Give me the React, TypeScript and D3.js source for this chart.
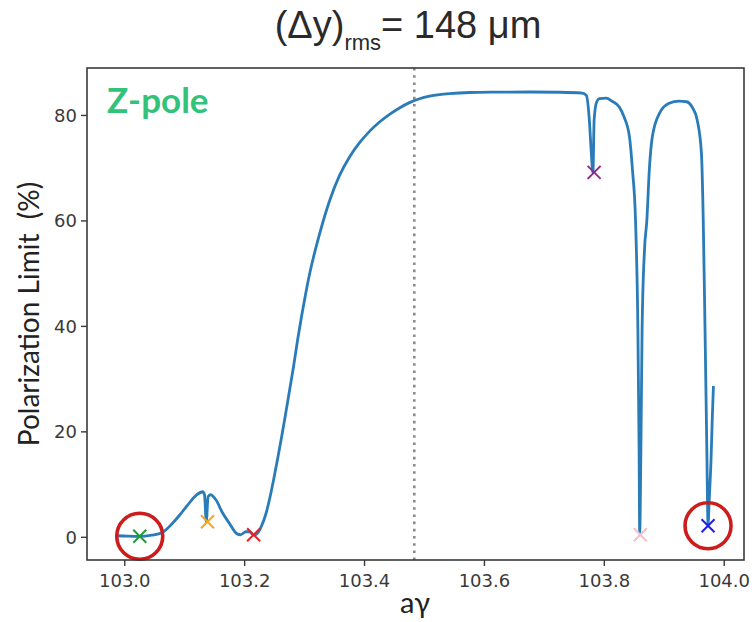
import React from "react";
import * as d3 from "d3";

// ---- data ----
const polX = [
  102.987, 103.005, 103.025, 103.045, 103.062, 103.08, 103.092, 103.103, 103.12, 103.13,
  103.133, 103.136, 103.139, 103.143, 103.152, 103.163, 103.175, 103.187, 103.193, 103.202,
  103.208, 103.215, 103.222, 103.2283, 103.235, 103.2417, 103.2483, 103.255, 103.2617, 103.2683,
  103.275, 103.2817, 103.2883, 103.295, 103.3017, 103.3083, 103.325, 103.3417, 103.3583, 103.375,
  103.3917, 103.4083, 103.425, 103.4417, 103.4583, 103.475, 103.4917, 103.5083, 103.525, 103.5417,
  103.575, 103.62, 103.675, 103.725, 103.7633, 103.77, 103.775, 103.778, 103.781, 103.783,
  103.787, 103.792, 103.803, 103.813, 103.825, 103.833, 103.842, 103.847, 103.852, 103.856,
  103.858, 103.859, 103.861, 103.863, 103.867, 103.871, 103.875, 103.88, 103.892, 103.908,
  103.925, 103.937, 103.947, 103.955, 103.962, 103.965, 103.968, 103.971, 103.973, 103.975,
  103.978, 103.98, 103.982,
];
const polY = [
  0.3, 0.21, 0.17, 0.4, 0.87, 2.71, 4.28, 5.85, 8.07, 8.64,
  8.07, 3.0, 7.69, 8.07, 7.12, 4.66, 2.58, 0.68, 0.49, 1.06,
  1.06, 0.4, 0.87, 2.2, 4.28, 7.31, 10.91, 14.89, 19.05, 23.41,
  27.95, 32.5, 37.42, 41.97, 46.14, 49.92, 57.55, 63.84, 68.63, 72.13,
  74.83, 76.98, 78.75, 80.22, 81.43, 82.43, 83.17, 83.65, 83.95, 84.14,
  84.35, 84.42, 84.45, 84.4, 84.25, 83.8, 79.1, 73.4, 69.2, 79.1,
  82.5, 83.2, 83.3, 82.7, 81.6, 79.7, 75.9, 69.6, 60.2, 39.3,
  16.6, 0.8, 16.6, 39.3, 54.5, 60.2, 69.6, 75.9, 80.4, 82.3,
  82.7, 82.6, 81.5, 79.1, 72.8, 60.2, 39.3, 16.6, 2.4, 7.1,
  14.7, 22.3, 28.7,
];

const markerX = [103.025, 103.138, 103.215, 103.783, 103.86, 103.973];
const markerY = [0.2, 2.95, 0.5, 69.2, 0.5, 2.2];
const markerColors = ["#1f9a3a", "#f5a623", "#e8202a", "#8e2a8e", "#f7bfcd", "#1f1fe6"];
const circledMarkers = [0, 5];

const xTicks = [103.0, 103.2, 103.4, 103.6, 103.8, 104.0];
const yTicks = [0, 20, 40, 60, 80];
const refLineX = 103.483;

const W = 754;
const H = 622;
const M = { left: 87, right: 744, top: 68, bottom: 560 };

export default function App() {
  const x = d3.scaleLinear().domain([102.937, 104.033]).range([M.left, M.right]);
  const y = d3.scaleLinear().domain([-4.3, 89.0]).range([M.bottom, M.top]);

  const pts: [number, number][] = polX.map((v, i) => [v, polY[i]]);
  const line = d3
    .line<[number, number]>()
    .x((d) => x(d[0]))
    .y((d) => y(d[1]))
    .curve(d3.curveMonotoneX);

  const tickFont = "'DejaVu Sans', sans-serif";
  const ms = 6.5;

  return (
    <svg
      width={W}
      height={H}
      style={{ position: "absolute", left: 0, top: 0, background: "#fff" }}
    >
      <rect x={0} y={0} width={W} height={H} fill="#fff" />
      {/* title */}
      <text
        x={408}
        y={38}
        textAnchor="middle"
        fontFamily="'Liberation Sans', Arial, sans-serif"
        fontSize={38}
        fill="#2a2a2a"
      >
        (Δy)
        <tspan fontSize={22} dy={12}>rms</tspan>
        <tspan dy={-12}>= 148 μm</tspan>
      </text>

      {/* dotted reference line */}
      <line
        x1={x(refLineX)}
        x2={x(refLineX)}
        y1={M.top}
        y2={M.bottom}
        stroke="#8a8a8a"
        strokeWidth={2.6}
        strokeDasharray="2.6,4.6"
      />

      {/* curve */}
      <path d={line(pts) || ""} fill="none" stroke="#2a7cb9" strokeWidth={2.8} strokeLinejoin="round" />

      {/* markers */}
      {markerX.map((mx, i) => {
        const cx = x(mx);
        const cy = y(markerY[i]);
        return (
          <g key={i} stroke={markerColors[i]} strokeWidth={2}>
            <line x1={cx - ms} y1={cy - ms} x2={cx + ms} y2={cy + ms} />
            <line x1={cx - ms} y1={cy + ms} x2={cx + ms} y2={cy - ms} />
          </g>
        );
      })}

      {/* red circles */}
      {circledMarkers.map((i) => (
        <circle
          key={i}
          cx={x(markerX[i])}
          cy={y(markerY[i])}
          r={23}
          fill="none"
          stroke="#cc1c1c"
          strokeWidth={3.6}
        />
      ))}

      {/* frame */}
      <rect
        x={M.left}
        y={M.top}
        width={M.right - M.left}
        height={M.bottom - M.top}
        fill="none"
        stroke="#3a3a3a"
        strokeWidth={1.6}
      />

      {/* x ticks */}
      {xTicks.map((t) => (
        <g key={t}>
          <line x1={x(t)} x2={x(t)} y1={M.bottom} y2={M.bottom + 6} stroke="#3a3a3a" strokeWidth={1.4} />
          <text x={x(t)} y={M.bottom + 27} textAnchor="middle" fontFamily={tickFont} fontSize={18} fill="#3a3a3a">
            {t.toFixed(1)}
          </text>
        </g>
      ))}

      {/* y ticks */}
      {yTicks.map((t) => (
        <g key={t}>
          <line x1={M.left - 6} x2={M.left} y1={y(t)} y2={y(t)} stroke="#3a3a3a" strokeWidth={1.4} />
          <text
            x={M.left - 10}
            y={y(t)}
            dy="0.35em"
            textAnchor="end"
            fontFamily={tickFont}
            fontSize={18}
            fill="#3a3a3a"
          >
            {t}
          </text>
        </g>
      ))}

      {/* axis labels */}
      <text
        transform={`translate(39, 314) rotate(-90)`}
        textAnchor="middle"
        fontFamily="Lato, 'Open Sans', sans-serif"
        fontSize={28}
        fill="#222"
        style={{ whiteSpace: "pre" }}
      >
        {"Polarization Limit  (%)"}
      </text>
      <text x={415} y={613} textAnchor="middle" fontFamily="Lato, 'Open Sans', sans-serif" fontSize={29} fill="#222">
        aγ
      </text>

      {/* Z-pole annotation */}
      <text x={107} y={113} fontFamily="Lato, 'Open Sans', sans-serif" fontWeight="bold" fontSize={35} fill="#33c27a">
        Z-pole
      </text>
    </svg>
  );
}
